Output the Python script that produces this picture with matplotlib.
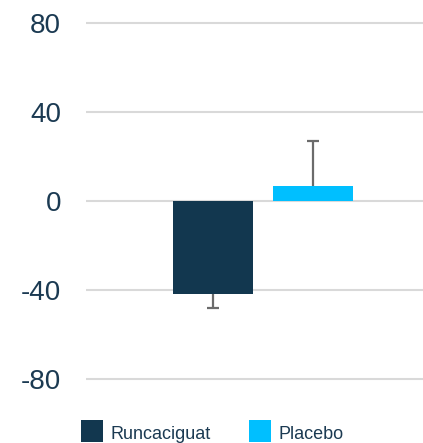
import matplotlib.pyplot as plt
from matplotlib.lines import Line2D

# data
groups = ["Runcaciguat", "Placebo"]
values = [-41.8, 6.7]
err_low = [6.3, 0.0]
err_high = [0.0, 20.3]
yticks = [-80, -40, 0, 40, 80]

colors = ["#12374f", "#00bfff"]
text_color = "#1b3a52"

plt.rcParams['font.family'] = ['Liberation Sans', 'DejaVu Sans']
plt.rcParams['axes.unicode_minus'] = False

fig = plt.figure(figsize=(4.23, 4.43), dpi=100)
ax = fig.add_axes([0.2033, 0.1344, 0.7967, 0.8237])

x = [-0.5, 0.5]
ax.bar(x, values, width=0.8, color=colors, zorder=3)

# one-sided error bars: stem from bar end, cap at the error end
for xi, v, lo, hi in zip(x, values, err_low, err_high):
    end = v - lo if lo > 0 else v + hi
    ax.vlines(xi, v, end, color="#6b6b6b", linewidth=1.6, zorder=2)
    ax.hlines(end, xi - 0.06, xi + 0.06, color="#6b6b6b", linewidth=1.6, zorder=2)

ax.set_xlim(-1.77, 1.60)
ax.set_ylim(-82, 82)
ax.set_yticks(yticks)
ax.set_xticks([])
ax.yaxis.grid(True, color="#d9d9d9", linewidth=1.5)
ax.set_axisbelow(True)
for s in ax.spines.values():
    s.set_visible(False)
ax.tick_params(axis='y', length=0, pad=18, labelsize=20, labelcolor=text_color)

handles = [Line2D([], [], marker='s', linestyle='none', markersize=16.5,
                  markeredgewidth=0, color=c, label=g) for g, c in zip(groups, colors)]
fig.legend(handles=handles, loc='center left', bbox_to_anchor=(80 / 423, 1 - 433 / 443),
           frameon=False, ncol=2, fontsize=13, handlelength=1.28, handleheight=1.28,
           handletextpad=0.4, columnspacing=2.1, borderpad=0, borderaxespad=0,
           labelcolor=text_color)

fig.savefig("out.png", dpi=100)
